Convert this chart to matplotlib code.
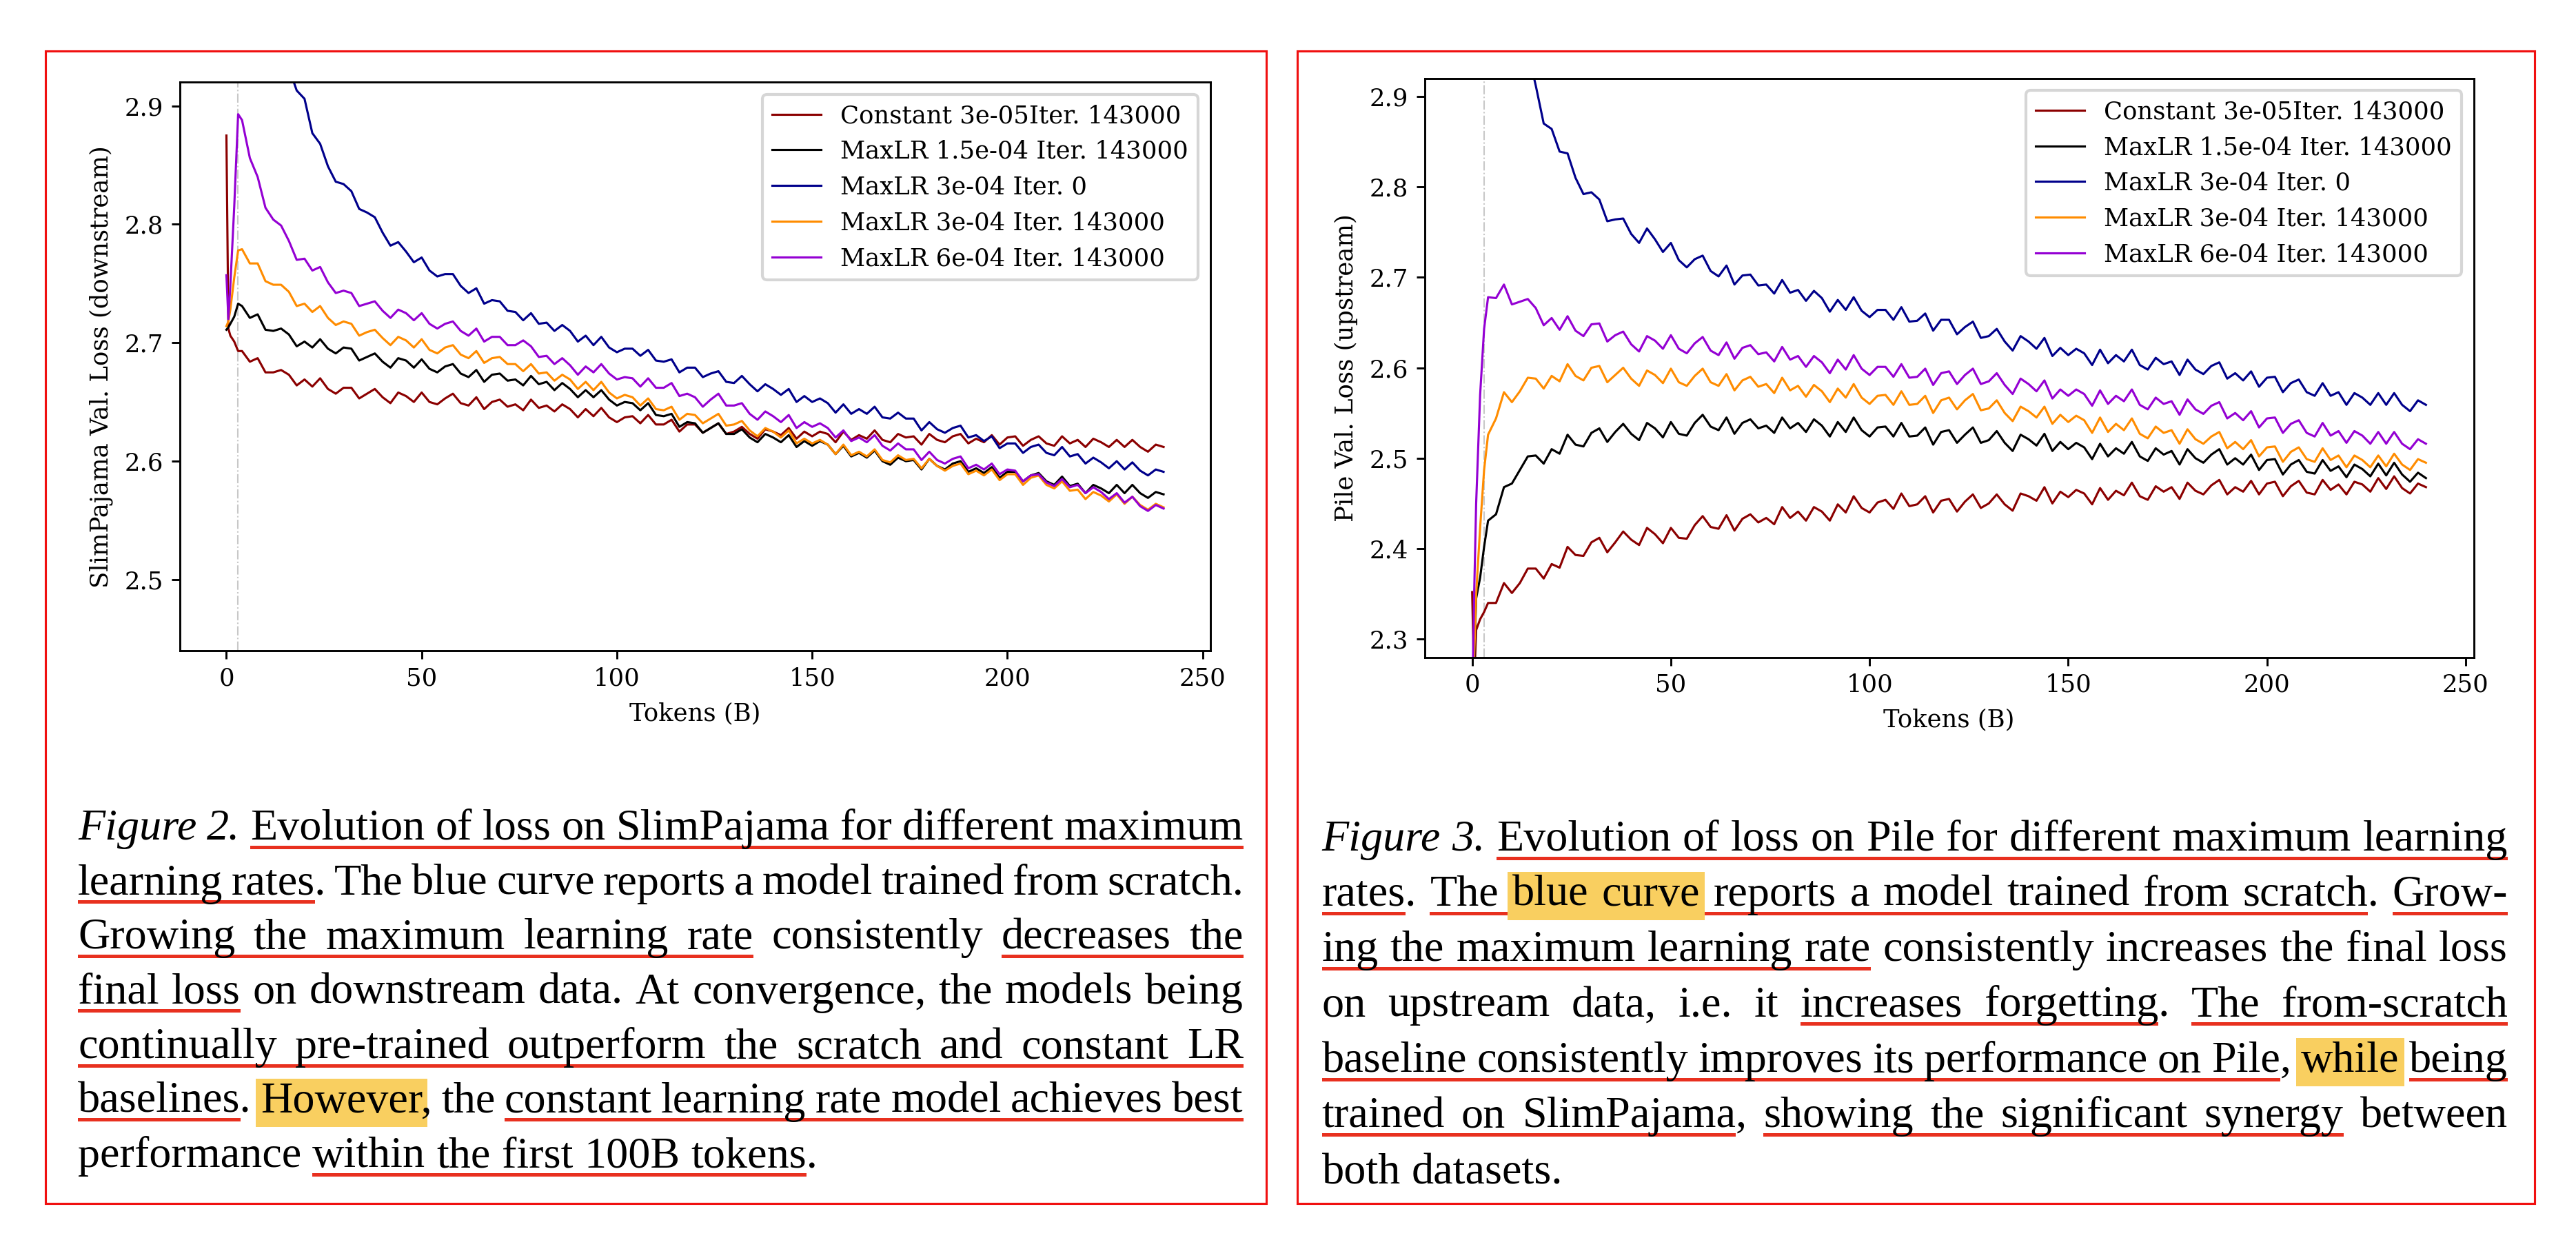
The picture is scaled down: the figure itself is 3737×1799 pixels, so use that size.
import matplotlib
matplotlib.use("Agg")
import matplotlib.pyplot as plt
from matplotlib.patches import Rectangle

W, H, DPI = 3737, 1799, 300

###################
#   Loss curves   #
###################
TOKENS = [0, 0.5, 1, 2, 3] + list(range(4, 241, 2))

LABELS = ["Constant 3e-05Iter. 143000", "MaxLR 1.5e-04 Iter. 143000", "MaxLR 3e-04 Iter. 0",
          "MaxLR 3e-04 Iter. 143000", "MaxLR 6e-04 Iter. 143000"]
COLORS = ["#8b0000", "black", "#00008b", "#ff8c00", "#9400d3"]

# SlimPajama (downstream)
slim_const = [2.875, 2.712, 2.706, 2.701, 2.693,
              2.693, 2.684, 2.687, 2.675, 2.675, 2.677, 2.673, 2.664, 2.669, 2.663,
              2.670, 2.661, 2.657, 2.662, 2.662, 2.653, 2.657, 2.661, 2.654, 2.649,
              2.658, 2.655, 2.650, 2.658, 2.650, 2.648, 2.653, 2.657, 2.649, 2.647,
              2.654, 2.644, 2.650, 2.652, 2.646, 2.648, 2.643, 2.652, 2.645, 2.647,
              2.642, 2.648, 2.644, 2.637, 2.644, 2.638, 2.645, 2.637, 2.633, 2.637,
              2.638, 2.632, 2.639, 2.631, 2.631, 2.635, 2.625, 2.631, 2.631, 2.624,
              2.628, 2.632, 2.623, 2.625, 2.629, 2.623, 2.619, 2.627, 2.625, 2.622,
              2.628, 2.619, 2.625, 2.621, 2.625, 2.623, 2.616, 2.625, 2.618, 2.622,
              2.619, 2.626, 2.618, 2.616, 2.623, 2.620, 2.621, 2.614, 2.623, 2.618,
              2.616, 2.621, 2.623, 2.615, 2.619, 2.616, 2.622, 2.614, 2.620, 2.621,
              2.613, 2.618, 2.621, 2.615, 2.613, 2.621, 2.615, 2.618, 2.612, 2.619,
              2.616, 2.612, 2.618, 2.612, 2.618, 2.612, 2.608, 2.614, 2.612]
slim_lr15 = [2.711, 2.713, 2.716, 2.722, 2.733,
             2.731, 2.721, 2.724, 2.711, 2.710, 2.712, 2.707, 2.697, 2.701, 2.696,
             2.703, 2.695, 2.691, 2.696, 2.695, 2.685, 2.688, 2.691, 2.684, 2.679,
             2.687, 2.685, 2.679, 2.686, 2.678, 2.675, 2.680, 2.682, 2.674, 2.671,
             2.677, 2.667, 2.673, 2.674, 2.668, 2.669, 2.664, 2.672, 2.665, 2.667,
             2.660, 2.666, 2.661, 2.654, 2.660, 2.654, 2.660, 2.652, 2.647, 2.650,
             2.649, 2.643, 2.649, 2.639, 2.638, 2.640, 2.629, 2.633, 2.632, 2.624,
             2.628, 2.632, 2.623, 2.623, 2.627, 2.620, 2.616, 2.623, 2.620, 2.616,
             2.622, 2.612, 2.617, 2.613, 2.617, 2.614, 2.606, 2.613, 2.604, 2.607,
             2.603, 2.609, 2.600, 2.597, 2.603, 2.600, 2.601, 2.593, 2.602, 2.596,
             2.593, 2.598, 2.600, 2.591, 2.594, 2.590, 2.595, 2.586, 2.591, 2.591,
             2.583, 2.588, 2.590, 2.583, 2.580, 2.587, 2.579, 2.581, 2.573, 2.580,
             2.577, 2.573, 2.580, 2.573, 2.580, 2.573, 2.569, 2.574, 2.572]
slim_scratch = [3.400, 3.350, 3.300, 3.200, 3.120,
                3.073, 3.018, 2.995, 2.966, 2.954, 2.944, 2.932, 2.913, 2.906, 2.877,
                2.868, 2.849, 2.836, 2.834, 2.828, 2.813, 2.810, 2.806, 2.793, 2.782,
                2.785, 2.777, 2.768, 2.772, 2.761, 2.756, 2.758, 2.758, 2.748, 2.742,
                2.746, 2.733, 2.736, 2.735, 2.727, 2.726, 2.719, 2.725, 2.716, 2.717,
                2.710, 2.715, 2.710, 2.701, 2.706, 2.698, 2.705, 2.696, 2.692, 2.695,
                2.695, 2.689, 2.694, 2.685, 2.684, 2.686, 2.675, 2.679, 2.679, 2.671,
                2.674, 2.676, 2.667, 2.666, 2.672, 2.665, 2.659, 2.665, 2.661, 2.656,
                2.661, 2.650, 2.655, 2.650, 2.653, 2.649, 2.641, 2.648, 2.640, 2.644,
                2.640, 2.646, 2.637, 2.636, 2.641, 2.636, 2.636, 2.626, 2.633, 2.627,
                2.624, 2.628, 2.630, 2.620, 2.622, 2.617, 2.621, 2.611, 2.615, 2.615,
                2.607, 2.612, 2.614, 2.607, 2.605, 2.612, 2.604, 2.606, 2.598, 2.603,
                2.599, 2.594, 2.600, 2.593, 2.599, 2.592, 2.588, 2.593, 2.591]
slim_lr3 = [2.714, 2.718, 2.728, 2.755, 2.778,
            2.779, 2.767, 2.767, 2.752, 2.749, 2.749, 2.743, 2.731, 2.733, 2.726,
            2.731, 2.721, 2.715, 2.718, 2.716, 2.706, 2.709, 2.711, 2.704, 2.698,
            2.705, 2.702, 2.696, 2.703, 2.694, 2.691, 2.696, 2.698, 2.690, 2.687,
            2.693, 2.683, 2.687, 2.688, 2.682, 2.682, 2.676, 2.682, 2.674, 2.675,
            2.668, 2.673, 2.669, 2.661, 2.667, 2.660, 2.667, 2.658, 2.653, 2.656,
            2.654, 2.647, 2.653, 2.644, 2.643, 2.646, 2.635, 2.640, 2.639, 2.632,
            2.636, 2.640, 2.630, 2.631, 2.634, 2.626, 2.621, 2.628, 2.625, 2.620,
            2.626, 2.615, 2.619, 2.615, 2.618, 2.614, 2.606, 2.614, 2.605, 2.608,
            2.604, 2.610, 2.601, 2.599, 2.605, 2.601, 2.602, 2.594, 2.602, 2.596,
            2.592, 2.596, 2.598, 2.589, 2.592, 2.588, 2.593, 2.584, 2.589, 2.589,
            2.580, 2.586, 2.588, 2.580, 2.577, 2.583, 2.575, 2.576, 2.568, 2.574,
            2.571, 2.566, 2.572, 2.564, 2.570, 2.563, 2.559, 2.564, 2.561]
slim_lr6 = [2.757, 2.720, 2.748, 2.815, 2.893,
            2.888, 2.856, 2.840, 2.814, 2.804, 2.799, 2.786, 2.770, 2.771, 2.761,
            2.764, 2.751, 2.742, 2.744, 2.742, 2.731, 2.733, 2.735, 2.727, 2.721,
            2.728, 2.725, 2.719, 2.725, 2.716, 2.712, 2.716, 2.718, 2.710, 2.706,
            2.712, 2.701, 2.705, 2.705, 2.698, 2.698, 2.702, 2.697, 2.688, 2.689,
            2.682, 2.687, 2.681, 2.673, 2.680, 2.675, 2.682, 2.674, 2.669, 2.671,
            2.670, 2.663, 2.670, 2.662, 2.662, 2.666, 2.655, 2.657, 2.654, 2.646,
            2.652, 2.657, 2.647, 2.647, 2.649, 2.640, 2.635, 2.642, 2.638, 2.633,
            2.639, 2.628, 2.633, 2.629, 2.632, 2.628, 2.620, 2.626, 2.617, 2.620,
            2.616, 2.622, 2.613, 2.609, 2.615, 2.610, 2.610, 2.601, 2.608, 2.601,
            2.598, 2.602, 2.604, 2.594, 2.597, 2.593, 2.598, 2.589, 2.593, 2.592,
            2.583, 2.588, 2.589, 2.582, 2.579, 2.585, 2.578, 2.580, 2.573, 2.578,
            2.574, 2.568, 2.573, 2.565, 2.570, 2.562, 2.558, 2.563, 2.560]

# Pile (upstream)
pile_const = [2.352, 2.250, 2.310, 2.322, 2.330,
              2.340, 2.340, 2.362, 2.351, 2.362, 2.378, 2.378, 2.367, 2.383, 2.379,
              2.402, 2.393, 2.392, 2.407, 2.412, 2.396, 2.407, 2.419, 2.410, 2.404,
              2.423, 2.416, 2.406, 2.423, 2.412, 2.411, 2.426, 2.436, 2.424, 2.422,
              2.437, 2.420, 2.433, 2.438, 2.429, 2.434, 2.427, 2.446, 2.434, 2.441,
              2.431, 2.446, 2.441, 2.431, 2.449, 2.440, 2.458, 2.445, 2.440, 2.451,
              2.454, 2.444, 2.461, 2.447, 2.449, 2.458, 2.440, 2.453, 2.455, 2.441,
              2.452, 2.460, 2.445, 2.450, 2.460, 2.449, 2.442, 2.461, 2.458, 2.453,
              2.468, 2.450, 2.463, 2.457, 2.465, 2.461, 2.449, 2.467, 2.454, 2.464,
              2.459, 2.473, 2.458, 2.454, 2.469, 2.463, 2.468, 2.455, 2.473, 2.464,
              2.460, 2.470, 2.476, 2.460, 2.468, 2.463, 2.475, 2.460, 2.472, 2.474,
              2.458, 2.469, 2.475, 2.462, 2.460, 2.476, 2.465, 2.471, 2.460, 2.474,
              2.471, 2.463, 2.478, 2.466, 2.480, 2.467, 2.461, 2.472, 2.468]
pile_lr15 = [2.220, 2.270, 2.345, 2.368, 2.402,
             2.431, 2.438, 2.468, 2.472, 2.487, 2.502, 2.503, 2.494, 2.510, 2.505,
             2.526, 2.515, 2.513, 2.528, 2.533, 2.518, 2.529, 2.538, 2.527, 2.520,
             2.539, 2.533, 2.523, 2.540, 2.527, 2.525, 2.539, 2.548, 2.535, 2.531,
             2.545, 2.527, 2.539, 2.543, 2.533, 2.536, 2.528, 2.545, 2.533, 2.539,
             2.529, 2.543, 2.536, 2.524, 2.540, 2.529, 2.545, 2.531, 2.524, 2.534,
             2.535, 2.524, 2.539, 2.524, 2.525, 2.534, 2.515, 2.529, 2.531, 2.517,
             2.526, 2.534, 2.517, 2.520, 2.530, 2.517, 2.508, 2.526, 2.521, 2.514,
             2.527, 2.508, 2.518, 2.510, 2.517, 2.512, 2.499, 2.516, 2.502, 2.511,
             2.505, 2.518, 2.502, 2.497, 2.511, 2.504, 2.508, 2.493, 2.510, 2.500,
             2.495, 2.504, 2.510, 2.493, 2.500, 2.493, 2.504, 2.487, 2.498, 2.499,
             2.482, 2.493, 2.498, 2.485, 2.483, 2.498, 2.486, 2.491, 2.479, 2.493,
             2.488, 2.480, 2.494, 2.481, 2.495, 2.482, 2.474, 2.484, 2.478]
pile_scratch = [3.500, 3.450, 3.400, 3.300, 3.200,
                3.126, 3.056, 3.030, 2.982, 2.963, 2.950, 2.912, 2.870, 2.864, 2.839,
                2.837, 2.810, 2.792, 2.794, 2.786, 2.762, 2.764, 2.765, 2.748, 2.738,
                2.754, 2.742, 2.728, 2.738, 2.719, 2.711, 2.720, 2.724, 2.707, 2.701,
                2.713, 2.692, 2.702, 2.703, 2.691, 2.692, 2.682, 2.697, 2.683, 2.686,
                2.674, 2.685, 2.677, 2.662, 2.675, 2.664, 2.678, 2.663, 2.656, 2.664,
                2.664, 2.653, 2.667, 2.651, 2.652, 2.660, 2.641, 2.653, 2.653, 2.637,
                2.645, 2.651, 2.633, 2.635, 2.643, 2.629, 2.619, 2.635, 2.629, 2.621,
                2.633, 2.613, 2.622, 2.614, 2.621, 2.616, 2.603, 2.620, 2.605, 2.614,
                2.607, 2.620, 2.603, 2.598, 2.611, 2.604, 2.607, 2.592, 2.609, 2.598,
                2.593, 2.602, 2.606, 2.588, 2.594, 2.586, 2.596, 2.579, 2.589, 2.590,
                2.573, 2.583, 2.587, 2.573, 2.569, 2.583, 2.569, 2.573, 2.559, 2.572,
                2.567, 2.559, 2.572, 2.559, 2.572, 2.559, 2.552, 2.564, 2.559]
pile_lr3 = [2.220, 2.280, 2.350, 2.423, 2.487,
            2.526, 2.544, 2.573, 2.562, 2.574, 2.589, 2.588, 2.577, 2.591, 2.585,
            2.604, 2.591, 2.586, 2.600, 2.602, 2.584, 2.592, 2.600, 2.588, 2.580,
            2.597, 2.592, 2.583, 2.599, 2.584, 2.580, 2.591, 2.599, 2.584, 2.580,
            2.593, 2.575, 2.586, 2.590, 2.579, 2.582, 2.572, 2.589, 2.575, 2.580,
            2.568, 2.581, 2.574, 2.562, 2.577, 2.567, 2.582, 2.567, 2.560, 2.569,
            2.570, 2.559, 2.574, 2.559, 2.560, 2.569, 2.550, 2.564, 2.567, 2.554,
            2.564, 2.571, 2.553, 2.555, 2.564, 2.550, 2.541, 2.557, 2.552, 2.545,
            2.557, 2.538, 2.548, 2.540, 2.547, 2.542, 2.528, 2.545, 2.529, 2.538,
            2.531, 2.544, 2.527, 2.522, 2.535, 2.528, 2.531, 2.516, 2.532, 2.521,
            2.516, 2.524, 2.529, 2.511, 2.518, 2.510, 2.520, 2.502, 2.512, 2.513,
            2.496, 2.507, 2.512, 2.499, 2.496, 2.511, 2.498, 2.503, 2.490, 2.503,
            2.498, 2.490, 2.503, 2.491, 2.505, 2.493, 2.487, 2.499, 2.495]
pile_lr6 = [2.220, 2.350, 2.450, 2.570, 2.643,
            2.678, 2.677, 2.692, 2.670, 2.673, 2.676, 2.666, 2.647, 2.655, 2.642,
            2.657, 2.641, 2.635, 2.648, 2.649, 2.629, 2.636, 2.640, 2.626, 2.618,
            2.635, 2.630, 2.621, 2.636, 2.621, 2.616, 2.627, 2.634, 2.619, 2.614,
            2.628, 2.610, 2.622, 2.625, 2.615, 2.617, 2.607, 2.623, 2.609, 2.613,
            2.601, 2.613, 2.606, 2.594, 2.609, 2.598, 2.614, 2.599, 2.592, 2.601,
            2.601, 2.590, 2.604, 2.589, 2.590, 2.599, 2.581, 2.594, 2.596, 2.582,
            2.592, 2.599, 2.582, 2.585, 2.594, 2.581, 2.571, 2.588, 2.582, 2.574,
            2.586, 2.566, 2.576, 2.569, 2.576, 2.571, 2.558, 2.575, 2.560, 2.569,
            2.563, 2.576, 2.559, 2.554, 2.567, 2.560, 2.563, 2.548, 2.565, 2.554,
            2.549, 2.558, 2.562, 2.544, 2.550, 2.542, 2.552, 2.534, 2.544, 2.545,
            2.528, 2.538, 2.542, 2.528, 2.524, 2.539, 2.525, 2.530, 2.517, 2.530,
            2.525, 2.516, 2.529, 2.516, 2.529, 2.516, 2.510, 2.521, 2.516]

###################
#    Captions     #
###################
# <..> underlined, [..] highlighted, {..} italic
CAPTION_LEFT = [
    "{Figure 2.} <Evolution of loss on SlimPajama for different maximum>",
    "<learning rates.> The blue curve reports a model trained from scratch.",
    "<Growing the maximum learning rate> consistently <decreases the>",
    "<final loss> on downstream data. At convergence, the models being",
    "<continually pre-trained outperform the scratch and constant LR>",
    "<baselines.> [However,] the <constant learning rate model achieves best>",
    "performance <within the first 100B tokens.>",
]
CAPTION_RIGHT = [
    "{Figure 3.} <Evolution of loss on Pile for different maximum learning>",
    "<rates.> <The [blue curve] reports a model trained from scratch.> <Grow->",
    "<ing the maximum learning rate> consistently increases the final loss",
    "on upstream data, i.e. it <increases forgetting.> <The from-scratch>",
    "<baseline consistently improves its performance on Pile,> [while] <being>",
    "<trained on SlimPajama,> <showing the significant synergy> between",
    "both datasets.",
]

plt.rcParams.update({
    "font.family": "serif",
    "font.serif": ["DejaVu Serif"],
    "font.size": 8.5,
    "axes.linewidth": 0.7,
    "xtick.major.size": 2.8, "ytick.major.size": 2.8,
    "xtick.major.pad": 2.8, "ytick.major.pad": 2.8,
    "xtick.major.width": 0.7, "ytick.major.width": 0.7,
})

fig = plt.figure(figsize=(W / DPI, H / DPI), dpi=DPI)


def px_rect(x0, y0, x1, y1):
    return [x0 / W, 1 - y1 / H, (x1 - x0) / W, (y1 - y0) / H]


def loss_panel(rect, series, ylabel, ylim, yticks):
    ax = fig.add_axes(rect)
    ax.axvline(3, color="#c8c8c8", lw=0.5, ls="-.", zorder=1)
    for y, lab, c in zip(series, LABELS, COLORS):
        ax.plot(TOKENS, y, color=c, lw=0.75, label=lab)
    ax.set_xlim(-12, 252)
    ax.set_ylim(*ylim)
    ax.set_xticks([0, 50, 100, 150, 200, 250])
    ax.set_yticks(yticks)
    ax.set_xlabel("Tokens (B)")
    ax.set_ylabel(ylabel)
    ax.legend(loc="upper right")
    return ax


loss_panel(px_rect(260.5, 119.3, 1756, 944),
           [slim_const, slim_lr15, slim_scratch, slim_lr3, slim_lr6],
           "SlimPajama Val. Loss (downstream)", (2.44, 2.92), [2.5, 2.6, 2.7, 2.8, 2.9])
loss_panel(px_rect(2066.5, 113.6, 3588.5, 953.5),
           [pile_const, pile_lr15, pile_scratch, pile_lr3, pile_lr6],
           "Pile Val. Loss (upstream)", (2.28, 2.92), [2.3, 2.4, 2.5, 2.6, 2.7, 2.8, 2.9])

# overlay in image pixel coordinates
ov = fig.add_axes([0, 0, 1, 1])
ov.set_xlim(0, W)
ov.set_ylim(H, 0)
ov.axis("off")

for x0, x1 in [(66, 1837), (1882, 3677)]:
    ov.add_patch(Rectangle((x0, 74), x1 - x0, 1746 - 74, fill=False, ec="#f01010", lw=0.75))

CAP_SIZE = 15.4
UL_COLOR = "#e8301f"
HL_COLOR = "#f9cf60"
renderer = fig.canvas.get_renderer()


def text_width(s, italic):
    t = ov.text(0, 0, s, family="Liberation Serif", fontsize=CAP_SIZE,
                style="italic" if italic else "normal")
    w = t.get_window_extent(renderer).width
    t.remove()
    return w


def parse(line):
    out = []
    u = h = it = False
    nu = nh = 0
    for raw in line.split():
        if "<" in raw:
            u = True
            nu += 1
        if "[" in raw:
            h = True
            nh += 1
        if "{" in raw:
            it = True
        text = "".join(c for c in raw if c not in "<>[]{}")
        out.append(dict(text=text, u=nu if u else None, h=nh if h else None, it=it))
        if ">" in raw:
            u = False
        if "]" in raw:
            h = False
        if "}" in raw:
            it = False
    return out


def draw_caption(lines, x0, x1, baselines):
    space = 0.25 * CAP_SIZE * DPI / 72
    for k, (line, base) in enumerate(zip(lines, baselines)):
        words = parse(line)
        widths = [text_width(w["text"], w["it"]) for w in words]
        if k == len(lines) - 1:
            gap = space
        else:
            gap = (x1 - x0 - sum(widths)) / (len(words) - 1)
        x = x0
        xs = []
        for w, wd in zip(words, widths):
            xs.append(x)
            ov.text(x, base, w["text"], family="Liberation Serif", fontsize=CAP_SIZE,
                    style="italic" if w["it"] else "normal", va="baseline", ha="left", zorder=3)
            x += wd + gap
        for key in ("u", "h"):
            runs = {}
            for i, w in enumerate(words):
                if w[key] is not None:
                    runs.setdefault(w[key], []).append(i)
            for idx in runs.values():
                a, b = idx[0], idx[-1]
                end = xs[b] + text_width(words[b]["text"].rstrip(".,"), words[b]["it"])
                if key == "u":
                    ov.add_patch(Rectangle((xs[a], base + 8.5), end - xs[a], 5,
                                           color=UL_COLOR, lw=0, zorder=1.5))
                else:
                    ov.add_patch(Rectangle((xs[a] - 7, base - 49), end - xs[a] + 14, 70,
                                           color=HL_COLOR, lw=0, zorder=2))


draw_caption(CAPTION_LEFT, 113, 1804, [1218, 1297.5, 1376.5, 1455.5, 1535, 1613.5, 1693])
draw_caption(CAPTION_RIGHT, 1917.5, 3638, [1234, 1314, 1394, 1474.5, 1555, 1635, 1717.5])

fig.savefig("out.png", dpi=DPI)
